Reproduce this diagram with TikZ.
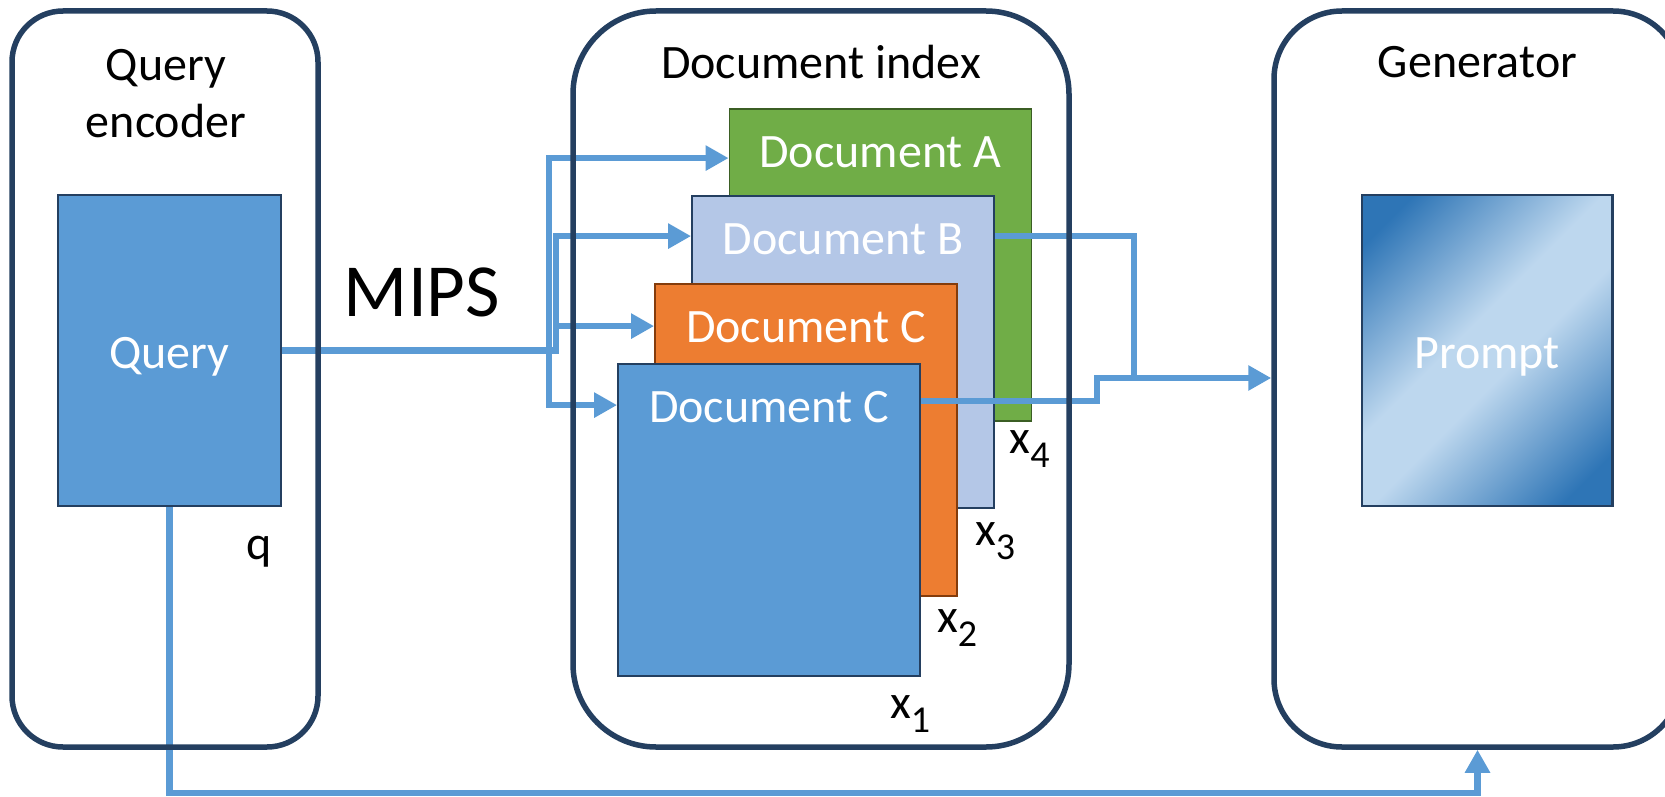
\documentclass[tikz,border=0pt]{standalone}
\usepackage{fontspec}
\setmainfont{Carlito}
\usetikzlibrary{arrows.meta, calc}

\definecolor{panelnavy}{HTML}{243F60}
\definecolor{flowblue}{HTML}{5B9BD5}
\definecolor{docgreen}{HTML}{70AD47}
\definecolor{docgreenline}{HTML}{3B5E24}
\definecolor{doclight}{HTML}{B4C7E7}
\definecolor{docorange}{HTML}{ED7D31}
\definecolor{docorangeline}{HTML}{843C0C}
\definecolor{promptdark}{HTML}{2E75B6}
\definecolor{promptlight}{HTML}{BDD7EE}

\pgfdeclarehorizontalshading{promptshade}{100bp}{color(0bp)=(promptdark); color(21bp)=(promptdark); color(45bp)=(promptlight); color(55bp)=(promptlight); color(79bp)=(promptdark); color(100bp)=(promptdark)}

\pgfdeclarelayer{front}
\pgfsetlayers{main,front}

\newcommand{\xsub}[1]{x\raisebox{-14pt}{\fontsize{38}{38}\selectfont #1}}

\tikzset{
    panel/.style={draw=panelnavy, line width=5.5pt, minimum height=736pt, inner sep=0pt},
    docbox/.style={draw, line width=1.8pt, minimum width=302pt, minimum height=312pt, inner sep=0pt},
    doctext/.style={anchor=base, text=white, inner sep=0pt},
    title/.style={anchor=base, inner sep=0pt},
    sublabel/.style={anchor=base west, inner sep=0pt},
    flow/.style={draw=flowblue, line width=6.5pt, -{Triangle[length=23pt, width=24pt]}}
}

\begin{document}
\begin{tikzpicture}[x=1pt, y=-1pt, font=\fontsize{48}{57}\selectfont]
    \useasboundingbox (0,0) rectangle (1665,797);

    \begin{pgfonlayer}{front}
        \node[panel, minimum width=306pt, rounded corners=51pt] (enc) at (165,379) {};
        \node[panel, minimum width=496pt, rounded corners=83pt] (idx) at (821,379) {};
        \node[panel, minimum width=407pt, rounded corners=68pt] (gen) at (1477.5,379) {};
    \end{pgfonlayer}

    \node[align=center, anchor=north, inner sep=0pt] (enctitle) at (166,49) {Query\\encoder};
    \node[title] (idxtitle) at ($(idx.north)+(0,70)$) {Document index};
    \node[title] (gentitle) at ($(gen.north)+(0,69)$) {Generator};

    \node[
        draw=panelnavy,
        line width=2.5pt,
        fill=flowblue,
        text=white,
        text height=36pt,
        text depth=0pt,
        minimum width=223pt,
        minimum height=311pt
    ] (query) at (169.5,350.5) {Query};
    \node[sublabel] (qlabel) at ($(query.south east)+(-36,52)$) {q};

    \node[
        draw=panelnavy,
        line width=2.5pt,
        shading=promptshade,
        shading angle=-45,
        text=white,
        text height=36pt,
        text depth=0pt,
        minimum width=250.5pt,
        minimum height=311pt
    ] (prompt) at (1487,350.5) {Prompt};

    \node[docbox, draw=docgreenline, fill=docgreen] (docA) at (880.5,265) {};
    \node[doctext] (labA) at ($(docA.north)+(0,59)$) {Document A};
    \node[docbox, draw=panelnavy, fill=doclight] (docB) at (843,352) {};
    \node[doctext] (labB) at ($(docB.north)+(0,59)$) {Document B};
    \node[docbox, draw=docorangeline, fill=docorange] (docCo) at (806,440) {};
    \node[doctext] (labCo) at ($(docCo.north)+(0,59)$) {Document C};
    \node[docbox, draw=panelnavy, fill=flowblue] (docCb) at (769,520) {};
    \node[doctext] (labCb) at ($(docCb.north)+(0,59)$) {Document C};

    \node[sublabel] (x4) at ($(docA.south east)+(-23,32)$) {\xsub{4}};
    \node[sublabel] (x3) at ($(docB.south east)+(-20,37)$) {\xsub{3}};
    \node[sublabel] (x2) at ($(docCo.south east)+(-21,36)$) {\xsub{2}};
    \node[sublabel] (x1) at ($(docCb.south east)+(-31,42)$) {\xsub{1}};

    \node[title, font=\fontsize{75}{80}\selectfont] (mips) at (422,316) {MIPS};

    \coordinate (fork) at (549,350.5);
    \coordinate (fork2) at (556,350.5);
    \coordinate (merge) at (1134,378);
    \coordinate (step) at (1097,378);
    \coordinate (low) at (169.5,793);

    \draw[flow] (query.east) -- (fork) |- ($(docA.north west)+(0,50)$);
    \draw[flow] (query.east) -- (fork2) |- ($(docB.north west)+(0,41)$);
    \draw[flow] (query.east) -- (fork2) |- ($(docCo.north west)+(0,43)$);
    \draw[flow] (query.east) -- (fork) |- ($(docCb.north west)+(0,42)$);

    \draw[flow] ($(docB.north east)+(0,41)$) -| (merge) -- (merge -| gen.west);
    \draw[flow, -] ($(docCb.north east)+(0,38)$) -| (step) -- (merge);

    \draw[flow] (query.south) -- (low) -| (gen.south);
\end{tikzpicture}
\end{document}
